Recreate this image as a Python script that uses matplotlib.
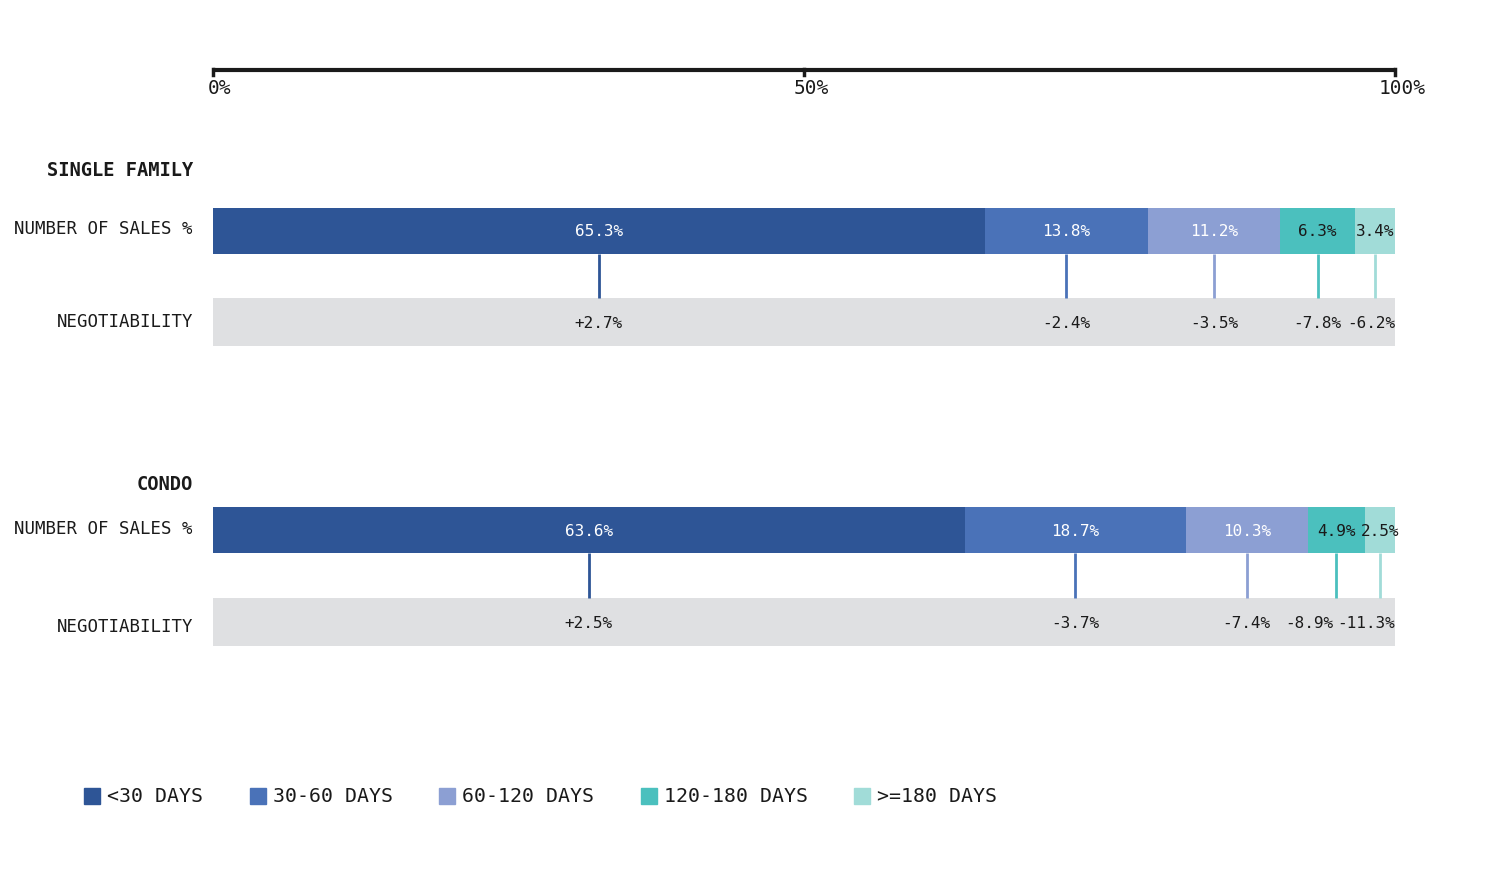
import numpy as np
import matplotlib.pyplot as plt
from matplotlib.patches import Rectangle

# data
buckets = ['<30 DAYS', '30-60 DAYS', '60-120 DAYS', '120-180 DAYS', '>=180 DAYS']
colors = ['#2e5596', '#4a72b8', '#8c9fd3', '#4bc0be', '#a1dcd8']
text_colors = ['white', 'white', 'white', '#1a1a1a', '#1a1a1a']

single_sales = [65.3, 13.8, 11.2, 6.3, 3.4]
single_neg = [2.7, -2.4, -3.5, -7.8, -6.2]
condo_sales = [63.6, 18.7, 10.3, 4.9, 2.5]
condo_neg = [2.5, -3.7, -7.4, -8.9, -11.3]

ticks = [0, 50, 100]
tick_labels = ['0%', '50%', '100%']

MONO = 'DejaVu Sans Mono'
W, H = 1500, 889
X0, X1 = 213, 1395          # pixel span of 0..100%
PX = 100.0 / (X1 - X0)      # percent per pixel
GREY = '#dfe0e2'
INK = '#1a1a1a'

fig = plt.figure(figsize=(W / 100, H / 100), dpi=100)
ax = fig.add_axes([X0 / W, 0, (X1 - X0) / W, 1])
ax.set_xlim(0, 100)
ax.set_ylim(H, 0)
ax.axis('off')

# top percentage axis
ax.plot([0, 100], [70, 70], color=INK, lw=3, solid_capstyle='butt', clip_on=False)
for t, lab in zip(ticks, tick_labels):
    ax.plot([t, t], [69, 75], color=INK, lw=2.5, clip_on=False)
    ax.text(t + 7 * PX, 89, lab, ha='center', va='center', fontsize=14,
            family=MONO, color=INK)


def place_labels(centers, labels, char_w, gap=4 * PX):
    # keep negotiability labels inside the band and not overlapping
    pos = list(centers)
    widths = [len(s) * char_w for s in labels]
    if pos[-1] + widths[-1] / 2 > 100:
        pos[-1] = 100 - widths[-1] / 2
    for i in range(len(pos) - 2, -1, -1):
        limit = pos[i + 1] - widths[i + 1] / 2 - gap - widths[i] / 2
        if pos[i] > limit:
            pos[i] = limit
    return pos


def draw_group(title, sales, neg, y_title, y_bar, y_neg, y_neg_label):
    lab_x = -20 * PX
    ax.text(lab_x, y_title, title, ha='right', va='center', fontsize=13.5,
            fontweight='bold', family=MONO, color=INK)
    ax.text(lab_x, y_bar - 1, 'NUMBER OF SALES %', ha='right', va='center',
            fontsize=12.5, family=MONO, color=INK)
    ax.text(lab_x, y_neg_label, 'NEGOTIABILITY', ha='right', va='center',
            fontsize=12.5, family=MONO, color=INK)

    left = np.concatenate([[0], np.cumsum(sales)[:-1]])
    centers = left + np.array(sales) / 2
    bar_h = 46
    ax.barh(y_bar, sales, left=left, height=bar_h, color=colors, linewidth=0)
    ax.barh(y_neg, 100, left=0, height=48, color=GREY, linewidth=0)

    for c, v, col, tc in zip(centers, sales, colors, text_colors):
        ax.text(c, y_bar + 1, f'{v:.1f}%', ha='center', va='center',
                fontsize=11.5, family=MONO, color=tc)
        ax.plot([c, c], [y_bar + bar_h / 2, y_neg - 24], color=col, lw=2,
                solid_capstyle='butt')

    neg_labels = [f'{v:+.1f}%' for v in neg]
    char_w = 0.602 * 11.5 * 100 / 72 * PX
    for x, s in zip(place_labels(centers, neg_labels, char_w), neg_labels):
        ax.text(x, y_neg + 1, s, ha='center', va='center', fontsize=11.5,
                family=MONO, color=INK)


draw_group('SINGLE FAMILY', single_sales, single_neg, 171, 230.5, 322, 322)
draw_group('CONDO', condo_sales, condo_neg, 484, 530, 622, 627)

# legend row
leg_fs = 14.3
leg_char = 0.602 * leg_fs * 100 / 72
x = 84
for name, col in zip(buckets, colors):
    ax.add_patch(Rectangle(((x - X0) * PX, 788), 16 * PX, 16, color=col,
                           clip_on=False))
    tx = x + 23
    ax.text((tx - X0) * PX, 797, name, ha='left', va='center', fontsize=leg_fs,
            family=MONO, color=INK)
    x = tx + len(name) * leg_char + 47

fig.savefig('out.png', dpi=100)
